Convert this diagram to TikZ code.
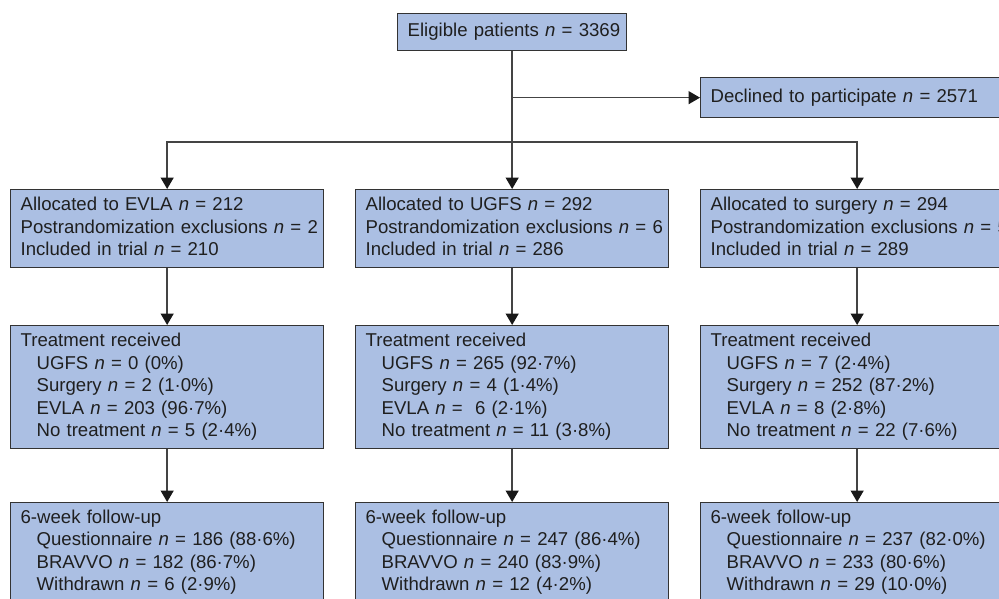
\documentclass[tikz,border=0pt]{standalone}
\usepackage{fontspec}
\setmainfont{Liberation Sans}
\usetikzlibrary{arrows.meta}
\definecolor{boxfill}{HTML}{ABBFE3}
\definecolor{boxline}{HTML}{333333}
\definecolor{conline}{HTML}{444444}
\tikzset{
  box/.style={draw=boxline, line width=1.3pt, fill=boxfill, anchor=north west,
    inner xsep=10pt, inner ysep=0pt, align=left, text=black!88,
    font=\fontsize{18.6}{22.5}\selectfont},
  arr/.style={draw=conline, line width=1.4pt, -{Triangle[width=13pt,length=11.5pt,color=black!90]}},
  con/.style={draw=conline, line width=1.4pt}
}
\newcommand{\nn}{\textit{n}}
\begin{document}
\begin{tikzpicture}[x=1pt,y=-1pt]
\useasboundingbox (0,0) rectangle (999,598);
\clip (0,0) rectangle (999,598);
% top
\node[box, minimum width=229pt, minimum height=37pt, text width=209pt] (elig) at (397,13)
  {\begin{tabular}{@{}l@{}}Eligible patients \nn{} = 3369\end{tabular}};
\node[box, minimum width=314pt, minimum height=40pt, text width=294pt] (dec) at (700,77)
  {\begin{tabular}{@{}l@{}}Declined to participate \nn{} = 2571\end{tabular}};
% row 2
\node[box, minimum width=313pt, minimum height=78pt, text width=293pt] (a1) at (10,189)
  {\begin{tabular}{@{}l@{}}Allocated to EVLA \nn{} = 212\\Postrandomization exclusions \nn{} = 2\\Included in trial \nn{} = 210\end{tabular}};
\node[box, minimum width=313pt, minimum height=78pt, text width=293pt] (a2) at (355,189)
  {\begin{tabular}{@{}l@{}}Allocated to UGFS \nn{} = 292\\Postrandomization exclusions \nn{} = 6\\Included in trial \nn{} = 286\end{tabular}};
\node[box, minimum width=313pt, minimum height=78pt, text width=293pt] (a3) at (700,189)
  {\begin{tabular}{@{}l@{}}Allocated to surgery \nn{} = 294\\Postrandomization exclusions \nn{} = 5\\Included in trial \nn{} = 289\end{tabular}};
% row 3
\node[box, minimum width=313pt, minimum height=123pt, text width=293pt] (t1) at (10,325)
  {\begin{tabular}{@{}l@{}}Treatment received\\\hspace{16pt}UGFS \nn{} = 0 (0\%)\\\hspace{16pt}Surgery \nn{} = 2 (1·0\%)\\\hspace{16pt}EVLA \nn{} = 203 (96·7\%)\\\hspace{16pt}No treatment \nn{} = 5 (2·4\%)\end{tabular}};
\node[box, minimum width=313pt, minimum height=123pt, text width=293pt] (t2) at (355,325)
  {\begin{tabular}{@{}l@{}}Treatment received\\\hspace{16pt}UGFS \nn{} = 265 (92·7\%)\\\hspace{16pt}Surgery \nn{} = 4 (1·4\%)\\\hspace{16pt}EVLA \nn{} = \ 6 (2·1\%)\\\hspace{16pt}No treatment \nn{} = 11 (3·8\%)\end{tabular}};
\node[box, minimum width=313pt, minimum height=123pt, text width=293pt] (t3) at (700,325)
  {\begin{tabular}{@{}l@{}}Treatment received\\\hspace{16pt}UGFS \nn{} = 7 (2·4\%)\\\hspace{16pt}Surgery \nn{} = 252 (87·2\%)\\\hspace{16pt}EVLA \nn{} = 8 (2·8\%)\\\hspace{16pt}No treatment \nn{} = 22 (7·6\%)\end{tabular}};
% row 4
\node[box, minimum width=313pt, minimum height=100pt, text width=293pt] (f1) at (10,502)
  {\begin{tabular}{@{}l@{}}6-week follow-up\\\hspace{16pt}Questionnaire \nn{} = 186 (88·6\%)\\\hspace{16pt}BRAVVO \nn{} = 182 (86·7\%)\\\hspace{16pt}Withdrawn \nn{} = 6 (2·9\%)\end{tabular}};
\node[box, minimum width=313pt, minimum height=100pt, text width=293pt] (f2) at (355,502)
  {\begin{tabular}{@{}l@{}}6-week follow-up\\\hspace{16pt}Questionnaire \nn{} = 247 (86·4\%)\\\hspace{16pt}BRAVVO \nn{} = 240 (83·9\%)\\\hspace{16pt}Withdrawn \nn{} = 12 (4·2\%)\end{tabular}};
\node[box, minimum width=313pt, minimum height=100pt, text width=293pt] (f3) at (700,502)
  {\begin{tabular}{@{}l@{}}6-week follow-up\\\hspace{16pt}Questionnaire \nn{} = 237 (82·0\%)\\\hspace{16pt}BRAVVO \nn{} = 233 (80·6\%)\\\hspace{16pt}Withdrawn \nn{} = 29 (10·0\%)\end{tabular}};
% connectors
\coordinate (split) at (511.5,142);
\draw[arr] (elig.south) -- (a2.north);
\draw[arr] (elig.south |- dec.west) -- (dec.west);
\draw[arr] (split) -| (a1.north);
\draw[arr] (split) -| (a3.north);
\draw[arr] (a1.south) -- (t1.north);
\draw[arr] (a2.south) -- (t2.north);
\draw[arr] (a3.south) -- (t3.north);
\draw[arr] (t1.south) -- (f1.north);
\draw[arr] (t2.south) -- (f2.north);
\draw[arr] (t3.south) -- (f3.north);
\end{tikzpicture}
\end{document}
